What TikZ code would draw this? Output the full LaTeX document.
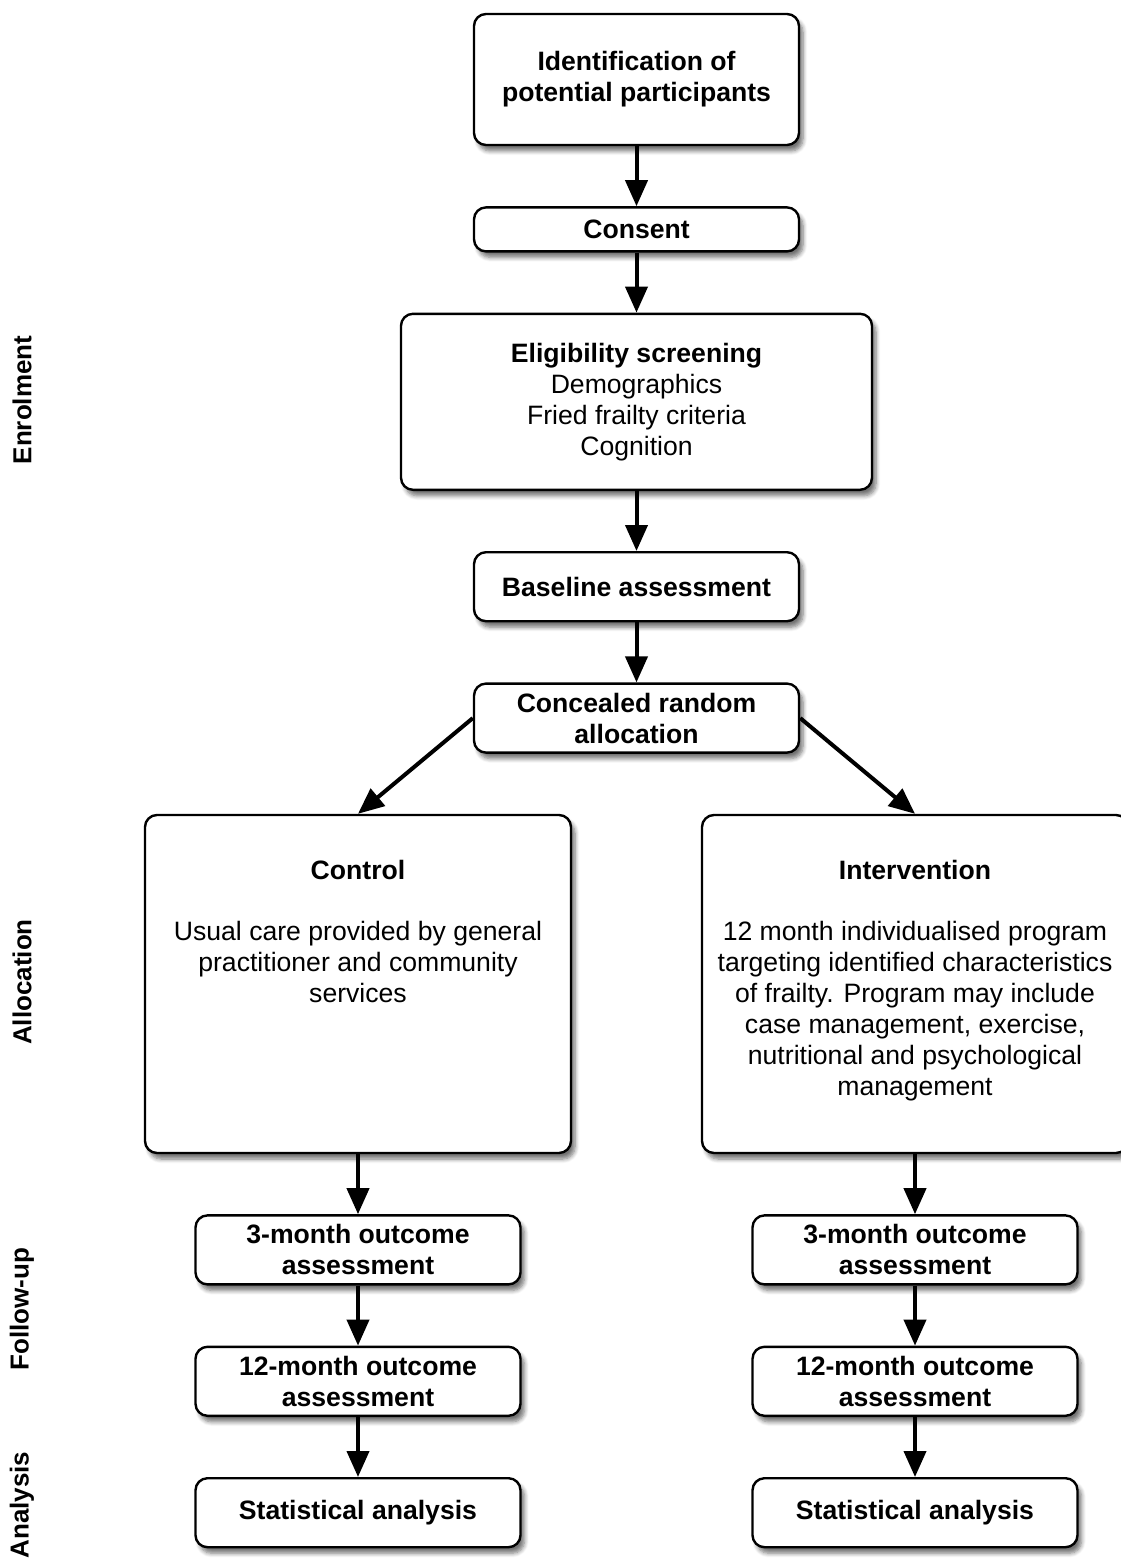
\documentclass[tikz,border=0pt]{standalone}
\usepackage{fontspec}
\setmainfont{Liberation Sans}
\usetikzlibrary{arrows.meta, positioning, shadows.blur}

\begin{document}
\begin{tikzpicture}[x=0.5pt, y=-0.5pt, node distance=30pt, >={Triangle[length=13pt,width=11pt]},
  box/.style={rectangle, draw, line width=1.2pt, fill=white, rounded corners=6pt, align=center, font=\fontsize{13.3}{15.5}\selectfont\bfseries, minimum width=162.5pt, minimum height=34.5pt, blur shadow={shadow xshift=2pt, shadow yshift=-3pt, shadow blur steps=6, shadow opacity=55}},
  bigbox/.style={box, minimum width=213pt, minimum height=169pt},
  bodytext/.style={align=center, inner sep=0pt, font=\fontsize{13.3}{15.5}\selectfont},
  sidelabel/.style={rotate=90, font=\fontsize{13}{15.5}\selectfont\bfseries},
  line/.style={draw, ->, line width=2pt}]

  \useasboundingbox (0,0) rectangle (1120,1562);

  % enrolment
  \node [box, minimum height=65.5pt] (ident) at (636.5,79.5) {Identification of\\potential participants};
  \node [box, minimum height=22pt, below=of ident] (consent) {Consent};
  \node [box, minimum width=235.5pt, minimum height=88pt, below=of consent] (elig) {Eligibility screening\\\mdseries Demographics\\\mdseries Fried frailty criteria\\\mdseries Cognition};
  \node [box, below=of elig] (baseline) {Baseline assessment};
  \node [box, below=of baseline] (alloc) {Concealed random\\allocation};

  % allocation
  \node [bigbox] (control) at (358,984) {};
  \node [bigbox] (interv) at (915,984) {};
  \node [bodytext, anchor=north] (controltxt) at ([yshift=-23pt]control.north) {\textbf{Control}\\[15pt]Usual care provided by general\\practitioner and community\\services};
  \node [bodytext, anchor=north] (intervtxt) at ([yshift=-23pt]interv.north) {\textbf{Intervention}\\[15pt]12 month individualised program\\targeting identified characteristics\\of frailty. Program may include\\case management, exercise,\\nutritional and psychological\\management};

  % follow-up and analysis
  \node [box, below=of control] (threectl) {3-month outcome\\assessment};
  \node [box, below=of threectl] (twelvectl) {12-month outcome\\assessment};
  \node [box, below=of twelvectl] (statctl) {Statistical analysis};
  \node [box, below=of interv] (threeint) {3-month outcome\\assessment};
  \node [box, below=of threeint] (twelveint) {12-month outcome\\assessment};
  \node [box, below=of twelveint] (statint) {Statistical analysis};

  % phase labels
  \node [sidelabel] (enrol) at (22,400) {Enrolment};
  \node [sidelabel] (allocation) at (22,982) {Allocation};
  \node [sidelabel] (followup) at (22,1309) {Follow-up};
  \node [sidelabel] (analysis) at (22,1505) {Analysis};

  \path [line] (ident) -- (consent);
  \path [line] (consent) -- (elig);
  \path [line] (elig) -- (baseline);
  \path [line] (baseline) -- (alloc);
  \path [line] (alloc.west) -- (control.north);
  \path [line] (alloc.east) -- (interv.north);
  \path [line] (control) -- (threectl);
  \path [line] (threectl) -- (twelvectl);
  \path [line] (twelvectl) -- (statctl);
  \path [line] (interv) -- (threeint);
  \path [line] (threeint) -- (twelveint);
  \path [line] (twelveint) -- (statint);
\end{tikzpicture}
\end{document}
